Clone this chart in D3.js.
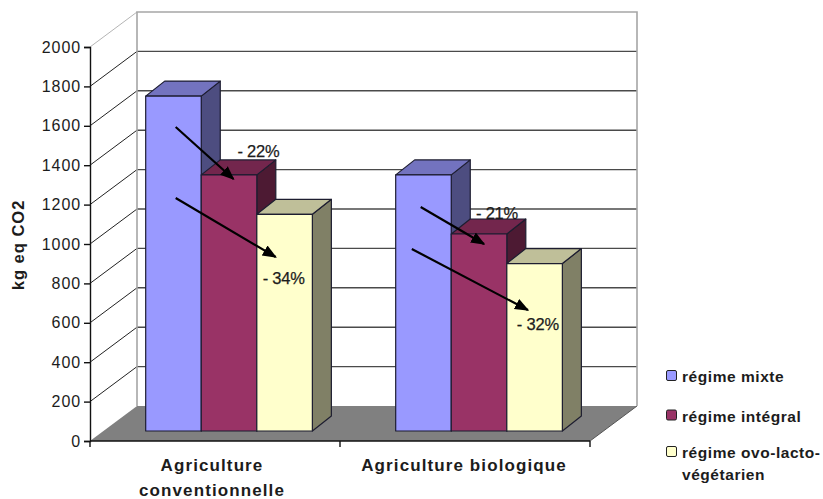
<!DOCTYPE html>
<html>
<head>
<meta charset="utf-8">
<script src="https://cdn.jsdelivr.net/npm/d3@7"></script>
<style>
html,body{margin:0;padding:0;background:#fff}
svg{display:block}
text{font-family:"Liberation Sans",Arial,sans-serif;fill:#1c1c1c}
</style>
</head>
<body>
<svg id="chart" width="823" height="499"></svg>
<script>
// Emissions per diet and farming system, kg eq CO2
const categories = ["Agriculture conventionnelle", "Agriculture biologique"];
const categoryLines = [["Agriculture", "conventionnelle"], ["Agriculture biologique"]];
const seriesNames = ["régime mixte", "régime intégral", "régime ovo-lacto-végétarien"];
const legendLines = [["régime mixte"], ["régime intégral"], ["régime ovo-lacto-", "végétarien"]];
const valuesMixte = [1700, 1300];
const valuesIntegral = [1300, 1000];
const valuesOvo = [1100, 850];
const seriesValues = [valuesMixte, valuesIntegral, valuesOvo];
const yTicks = [0, 200, 400, 600, 800, 1000, 1200, 1400, 1600, 1800, 2000];

// Reduction arrows: [category, from series, from value, to series, to value, label]
const reductions = [
  [0, 0, 1543, 1, 1279, "- 22%"],
  [0, 0, 1183, 2, 883, "- 34%"],
  [1, 0, 1137, 1, 949, "- 21%"],
  [1, 0, 924, 2, 614, "- 32%"]
];

const faceColors = ["#9999FF", "#993366", "#FFFFCC"];
const topColors = ["#7373BF", "#73264D", "#BFBF99"];
const sideColors = ["#4D4D80", "#4D1A33", "#808066"];

// Oblique projection of the chart box
const left = 90, right = 590, floorY = 441, topY = 47;
const boxDx = 47, boxDy = 35;
const barInset = 10 / boxDy;          // bars sit this far into the box
const barDx = 19, barDy = 15;         // depth of a single bar

const svg = d3.select("#chart");

const yFront = d3.scaleLinear().domain([0, 2000]).range([floorY, topY]);
const yBack = d3.scaleLinear().domain([0, 2000]).range([floorY - boxDy, topY - boxDy]);
const yBar = d3.scaleLinear().domain([0, 2000]).range([floorY - 10, topY - 10]);

const xCat = d3.scaleBand().domain(categories).range([left, right]);
const xOffset = barInset * boxDx + 0.6;
const groupWidth = xCat.bandwidth() * 2 / 3;
const xSeries = d3.scaleBand().domain(seriesNames).range([0, groupWidth]);
const barX = (c, s) => xCat(categories[c]) + xOffset + (xCat.bandwidth() - groupWidth) / 2 + xSeries(seriesNames[s]);
const pts = a => a.map(p => p.join(",")).join(" ");

// Walls
svg.append("polygon")
  .attr("points", pts([[left, yFront(0)], [left + boxDx, yBack(0)], [left + boxDx, yBack(2000)], [left, yFront(2000)]]))
  .attr("fill", "#fff");
svg.append("rect")
  .attr("x", left + boxDx).attr("y", yBack(2000))
  .attr("width", right - left).attr("height", yBack(0) - yBack(2000))
  .attr("fill", "#fff");

// Floor
svg.append("polygon")
  .attr("points", pts([[left, yFront(0)], [left + boxDx, yBack(0)], [right + boxDx, yBack(0)], [right, yFront(0)]]))
  .attr("fill", "#808080");
svg.append("line")
  .attr("x1", right).attr("y1", yFront(0)).attr("x2", right + boxDx).attr("y2", yBack(0))
  .attr("stroke", "#555").attr("stroke-width", 1);

// Gridlines on the side and back walls
const grid = yTicks.filter(t => t > 0 && t < 2000);
svg.append("g").selectAll("line").data(grid).join("line")
  .attr("x1", left).attr("y1", d => yFront(d))
  .attr("x2", left + boxDx).attr("y2", d => yBack(d))
  .attr("stroke", "#222").attr("stroke-width", 1);
svg.append("line")
  .attr("x1", left).attr("y1", yFront(2000))
  .attr("x2", left + boxDx).attr("y2", yBack(2000))
  .attr("stroke", "#b5b5b5").attr("stroke-width", 1);
svg.append("g").selectAll("line").data(grid).join("line")
  .attr("x1", left + boxDx).attr("y1", d => yBack(d))
  .attr("x2", right + boxDx).attr("y2", d => yBack(d))
  .attr("stroke", "#4a4a4a").attr("stroke-width", 1.4);

// Wall outline
svg.append("path")
  .attr("d", `M${left + boxDx},${yBack(0)}V${yBack(2000)}H${right + boxDx}V${yBack(0)}`)
  .attr("fill", "none").attr("stroke", "#a6a6a6").attr("stroke-width", 1.6);

// Bars, left to right so each one overlaps its neighbour's side face
const barGroup = svg.append("g").attr("stroke", "#1d1d30").attr("stroke-width", 1.2).attr("stroke-linejoin", "round");
categories.forEach((cat, c) => {
  seriesNames.forEach((name, s) => {
    const x0 = barX(c, s), x1 = x0 + xSeries.bandwidth();
    const y0 = yBar(0), y1 = yBar(seriesValues[s][c]);
    barGroup.append("polygon")
      .attr("points", pts([[x1, y0], [x1 + barDx, y0 - barDy], [x1 + barDx, y1 - barDy], [x1, y1]]))
      .attr("fill", sideColors[s]);
    barGroup.append("polygon")
      .attr("points", pts([[x0, y1], [x0 + barDx, y1 - barDy], [x1 + barDx, y1 - barDy], [x1, y1]]))
      .attr("fill", topColors[s]);
    barGroup.append("rect")
      .attr("x", x0).attr("y", y1)
      .attr("width", x1 - x0).attr("height", y0 - y1)
      .attr("fill", faceColors[s]);
  });
});

// Value axis
const yAxis = d3.axisLeft(yFront).tickValues(yTicks).tickSize(6).tickPadding(3).tickFormat(d3.format("d"));
const yAxisG = svg.append("g").attr("transform", `translate(${left},0)`).call(yAxis);
yAxisG.selectAll("path,line").attr("stroke", "#111").attr("stroke-width", 1.4);
yAxisG.selectAll("text")
  .style("font-size", "16px").style("letter-spacing", "0.9px")
  .style("font-family", '"Liberation Sans",Arial,sans-serif');

// Category axis
svg.append("line")
  .attr("x1", left).attr("x2", right).attr("y1", floorY).attr("y2", floorY)
  .attr("stroke", "#111").attr("stroke-width", 1.4);
svg.append("g").selectAll("line").data([left, left + xCat.step(), right]).join("line")
  .attr("x1", d => d).attr("x2", d => d).attr("y1", floorY).attr("y2", floorY + 6)
  .attr("stroke", "#111").attr("stroke-width", 1.4);

categories.forEach((cat, c) => {
  const cx = xCat(cat) + xCat.bandwidth() / 2 + (c === 0 ? -3 : -1);
  categoryLines[c].forEach((line, i) => {
    svg.append("text")
      .attr("x", cx).attr("y", 471 + i * 25)
      .attr("text-anchor", "middle")
      .style("font-size", "17px").style("font-weight", "bold").style("letter-spacing", "1.1px")
      .text(line);
  });
});

// Axis title
svg.append("text")
  .attr("transform", "translate(24,245) rotate(-90)")
  .attr("text-anchor", "middle")
  .style("font-size", "16.5px").style("font-weight", "bold").style("letter-spacing", "1px")
  .text("kg eq CO2");

// Reduction arrows and their labels
svg.append("defs").append("marker")
  .attr("id", "head").attr("viewBox", "0 0 10 10")
  .attr("refX", 9).attr("refY", 5)
  .attr("markerWidth", 6.5).attr("markerHeight", 6.5)
  .attr("markerUnits", "strokeWidth")
  .attr("orient", "auto")
  .append("path").attr("d", "M0,1 L10,5 L0,9 Z").attr("fill", "#000");

const fromFrac = [0.54, 0.54, 0.45, 0.29];
const toFrac = [0.58, 0.34, 0.59, 0.38];
const labelShift = [[25, -22], [8, 27], [13, -25], [10, 20]];
reductions.forEach(([c, s0, v0, s1, v1, label], i) => {
  const x0 = barX(c, s0) + fromFrac[i] * xSeries.bandwidth();
  const x1 = barX(c, s1) + toFrac[i] * xSeries.bandwidth();
  svg.append("line")
    .attr("x1", x0).attr("y1", yBar(v0))
    .attr("x2", x1).attr("y2", yBar(v1))
    .attr("stroke", "#000").attr("stroke-width", 2.2)
    .attr("marker-end", "url(#head)");
  svg.append("text")
    .attr("x", x1 + labelShift[i][0]).attr("y", yBar(v1) + labelShift[i][1])
    .attr("text-anchor", "middle")
    .style("font-size", "16.5px").style("letter-spacing", "-0.2px")
    .style("stroke", "#1c1c1c").style("stroke-width", "0.25px")
    .text(label);
});

// Legend
const legendRows = [376, 415.5, 452];
seriesNames.forEach((name, i) => {
  svg.append("rect")
    .attr("x", 666.5).attr("y", legendRows[i] - 5.5)
    .attr("width", 10).attr("height", 10).attr("rx", 1.5)
    .attr("fill", faceColors[i]).attr("stroke", "#222").attr("stroke-width", 1);
  legendLines[i].forEach((line, j) => {
    svg.append("text")
      .attr("x", 682).attr("y", legendRows[i] + 6 + j * 22)
      .style("font-size", "15.5px").style("letter-spacing", "0.55px").style("font-weight", "bold")
      .text(line);
  });
});
</script>
</body>
</html>
